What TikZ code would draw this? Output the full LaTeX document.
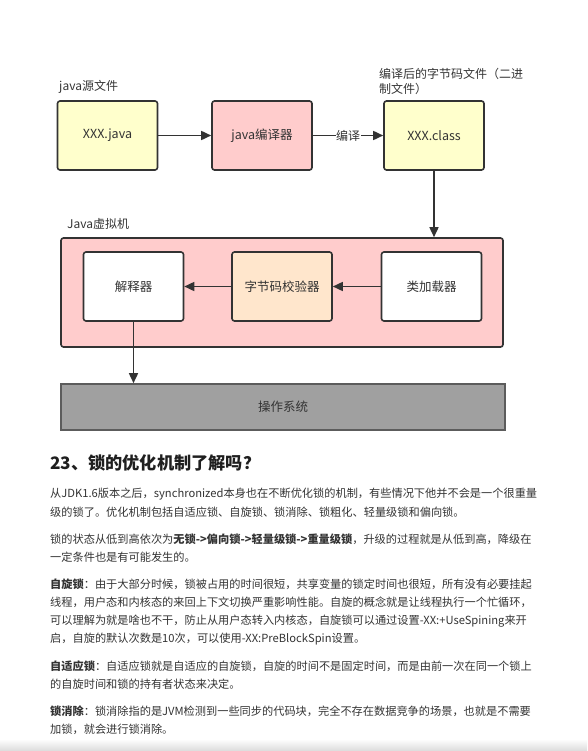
\documentclass[tikz,border=0pt]{standalone}
\usepackage{fontspec}
\setmainfont{Noto Sans CJK SC}
\usetikzlibrary{arrows.meta}

\definecolor{fileyellow}{HTML}{FFFFCC}
\definecolor{jvmpink}{HTML}{FFCCCC}
\definecolor{checkorange}{HTML}{FFE6CC}
\definecolor{osgray}{HTML}{A0A0A0}
\definecolor{edgegray}{HTML}{333333}
\definecolor{inkgray}{HTML}{333333}

\begin{document}
\begin{tikzpicture}[x=1pt, y=-1pt,  % one unit is one pixel of the page
    filebox/.style={draw=edgegray, line width=1.6pt, rounded corners=2.5pt,
        minimum width=100pt, minimum height=69pt, text=inkgray,
        font=\fontsize{12.5}{15}\selectfont},
    flow/.style={draw=edgegray, line width=1.6pt, -{Triangle[length=10pt,width=9pt]}},
    caption/.style={anchor=west, inner sep=0pt, text=inkgray,
        font=\fontsize{12}{15}\selectfont},
    textline/.style={anchor=west, inner sep=0pt, text=inkgray,
        font=\fontsize{11.2}{14}\selectfont}]
    \useasboundingbox (0,0) rectangle (587,751);

    % Compile step
    \node[caption] (srclabel) at (59,87) {java源文件};
    \node[filebox, fill=fileyellow] (src) at (107.5,135.5) {XXX.java};
    \node[filebox, fill=jvmpink] (javac) at (262,135.5) {java编译器};
    \node[filebox, fill=fileyellow] (cls) at (434,135.5) {XXX.class};
    \node[caption, align=left, font=\fontsize{12}{15}\selectfont] (clslabel) at (379,81.5)
        {编译后的字节码文件（二进\\制文件）};
    \draw[flow] (src) -- (javac);
    \draw[flow] (javac) -- node[fill=white, inner sep=0.5pt, text=inkgray,
        font=\fontsize{12}{15}\selectfont] (compile) {编译} (cls);

    % Java virtual machine
    \node[caption] (jvmlabel) at (67,224) {Java虚拟机};
    \node[draw=edgegray, line width=1.6pt, rounded corners=2.5pt, fill=jvmpink,
        minimum width=442pt, minimum height=109pt] (jvm) at (282,292.5) {};
    \node[filebox, fill=white] (interp) at (133.5,286.5) {解释器};
    \node[filebox, fill=checkorange] (verify) at (282,286.5) {字节码校验器};
    \node[filebox, fill=white] (loader) at (431.5,286.5) {类加载器};
    \draw[flow] (cls.south) -- (cls.south |- jvm.north);
    \draw[flow] (loader) -- (verify);
    \draw[flow] (verify) -- (interp);

    % Operating system
    \node[draw=edgegray!80, line width=1.6pt, fill=osgray, minimum width=444pt,
        minimum height=46pt, text=inkgray, font=\fontsize{12.5}{15}\selectfont]
        (os) at (283,407) {操作系统};
    \draw[flow] (interp.south) -- (interp.south |- os.north);

    % Question and answer text
    \node[textline, text=black!88, font=\fontsize{17.2}{20}\selectfont\bfseries]
        (title) at (50,463) {23、锁的优化机制了解吗？};
    \node[textline] (p1a) at (50,494) {从JDK1.6版本之后，synchronized本身也在不断优化锁的机制，有些情况下他并不会是一个很重量};
    \node[textline] (p1b) at (50,512.5) {级的锁了。优化机制包括自适应锁、自旋锁、锁消除、锁粗化、轻量级锁和偏向锁。};
    \node[textline] (p2a) at (50,539) {锁的状态从低到高依次为\textbf{无锁->偏向锁->轻量级锁->重量级锁}，升级的过程就是从低到高，降级在};
    \node[textline] (p2b) at (50,557.5) {一定条件也是有可能发生的。};
    \node[textline] (p3a) at (50,584) {\textbf{自旋锁}：由于大部分时候，锁被占用的时间很短，共享变量的锁定时间也很短，所有没有必要挂起};
    \node[textline] (p3b) at (50,602.5) {线程，用户态和内核态的来回上下文切换严重影响性能。自旋的概念就是让线程执行一个忙循环，};
    \node[textline] (p3c) at (50,621) {可以理解为就是啥也不干，防止从用户态转入内核态，自旋锁可以通过设置-XX:+UseSpining来开};
    \node[textline] (p3d) at (50,639.5) {启，自旋的默认次数是10次，可以使用-XX:PreBlockSpin设置。};
    \node[textline] (p4a) at (50,666) {\textbf{自适应锁}：自适应锁就是自适应的自旋锁，自旋的时间不是固定时间，而是由前一次在同一个锁上};
    \node[textline] (p4b) at (50,684.5) {的自旋时间和锁的持有者状态来决定。};
    \node[textline] (p5a) at (50,711) {\textbf{锁消除}：锁消除指的是JVM检测到一些同步的代码块，完全不存在数据竞争的场景，也就是不需要};
    \node[textline] (p5b) at (50,729.5) {加锁，就会进行锁消除。};

    % Page shadow at the bottom
    \shade[top color=white, bottom color=black!14] (0,739) rectangle (587,751);
\end{tikzpicture}
\end{document}
